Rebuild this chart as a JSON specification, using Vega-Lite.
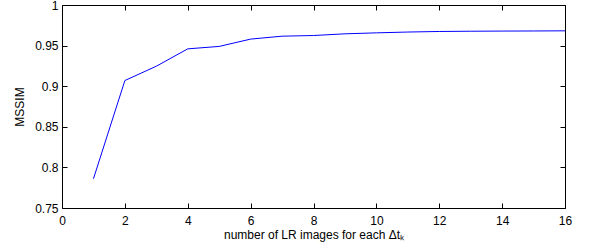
{
  "$schema": "https://vega.github.io/schema/vega-lite/v6.json",
  "width": 503,
  "height": 203,
  "autosize": {"type": "none"},
  "padding": {"left": 62, "top": 5, "right": 24, "bottom": 42},
  "background": "white",
  "config": {
    "view": {"stroke": "black", "strokeWidth": 1},
    "font": "Liberation Sans",
    "axis": {
      "grid": false,
      "domain": false,
      "tickColor": "black",
      "tickWidth": 1,
      "labelColor": "black",
      "labelFont": "Liberation Sans",
      "labelFontSize": 12,
      "titleFont": "Liberation Sans",
      "titleFontSize": 12,
      "titleFontWeight": "normal",
      "titleColor": "black"
    }
  },
  "data": {
    "values": [
      {"n": 1, "mssim": 0.786},
      {"n": 2, "mssim": 0.907},
      {"n": 3, "mssim": 0.9246},
      {"n": 4, "mssim": 0.946},
      {"n": 5, "mssim": 0.949},
      {"n": 6, "mssim": 0.958},
      {"n": 7, "mssim": 0.9616},
      {"n": 8, "mssim": 0.9624},
      {"n": 9, "mssim": 0.9645},
      {"n": 10, "mssim": 0.9657},
      {"n": 11, "mssim": 0.9667},
      {"n": 12, "mssim": 0.9674},
      {"n": 13, "mssim": 0.9677},
      {"n": 14, "mssim": 0.9679},
      {"n": 15, "mssim": 0.968},
      {"n": 16, "mssim": 0.9682}
    ]
  },
  "encoding": {
    "x": {"field": "n", "type": "quantitative", "scale": {"domain": [0, 16], "nice": false}},
    "y": {"field": "mssim", "type": "quantitative", "scale": {"domain": [0.75, 1], "nice": false, "zero": false}}
  },
  "layer": [
    {
      "mark": {"type": "line", "color": "#0000ff", "strokeWidth": 1, "clip": true},
      "encoding": {
        "x": {
          "field": "n", "type": "quantitative",
          "axis": {"values": [0, 2, 4, 6, 8, 10, 12, 14, 16], "ticks": false, "title": "number of LR images for each Δtₖ", "labelPadding": 7, "titlePadding": 3, "labelFlush": false}
        },
        "y": {
          "field": "mssim", "type": "quantitative",
          "axis": {"values": [0.75, 0.8, 0.85, 0.9, 0.95, 1], "ticks": false, "title": "MSSIM", "labelPadding": 4, "titlePadding": 8, "labelFlush": false,
            "labelExpr": "datum.value == 1 ? '1' : format(datum.value, '.2~f')"}
        }
      }
    },
    {
      "mark": {"type": "line", "opacity": 0},
      "encoding": {
        "x": {
          "field": "n", "type": "quantitative",
          "axis": {"orient": "bottom", "offset": -5, "tickSize": 5, "values": [0, 2, 4, 6, 8, 10, 12, 14, 16], "labels": false, "title": null}
        },
        "y": {
          "field": "mssim", "type": "quantitative",
          "axis": {"orient": "left", "offset": -5, "tickSize": 5, "values": [0.75, 0.8, 0.85, 0.9, 0.95, 1], "labels": false, "title": null}
        }
      }
    },
    {
      "mark": {"type": "line", "opacity": 0},
      "encoding": {
        "x": {
          "field": "n", "type": "quantitative",
          "axis": {"orient": "top", "offset": -5, "tickSize": 5, "values": [0, 2, 4, 6, 8, 10, 12, 14, 16], "labels": false, "title": null}
        },
        "y": {
          "field": "mssim", "type": "quantitative",
          "axis": {"orient": "right", "offset": -5, "tickSize": 5, "values": [0.75, 0.8, 0.85, 0.9, 0.95, 1], "labels": false, "title": null}
        }
      }
    }
  ],
  "resolve": {"axis": {"x": "independent", "y": "independent"}}
}
